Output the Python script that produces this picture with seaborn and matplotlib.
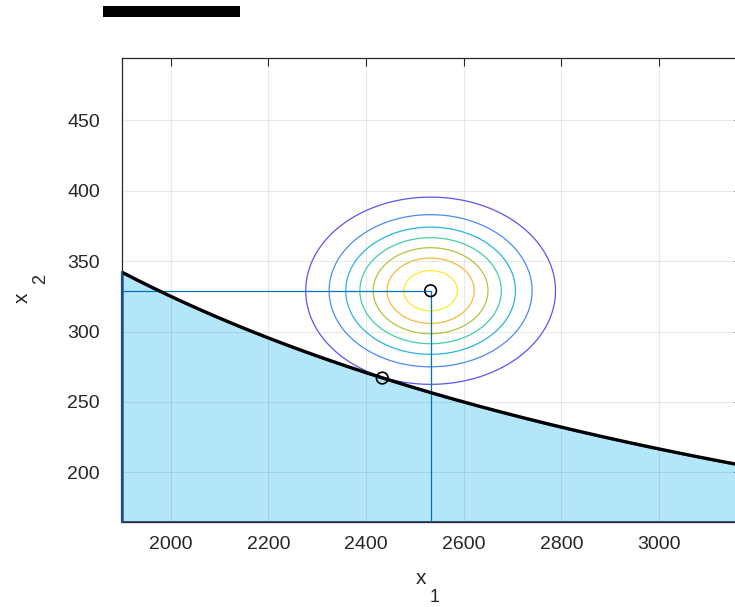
import numpy as np
import pandas as pd
import matplotlib
matplotlib.use('Agg')
import matplotlib.pyplot as plt
import seaborn as sns
from matplotlib.patches import Rectangle

# ── Data ──────────────────────────────────────────────────────
x1_limits = [1900, 3170]
x2_limits = [165, 494]
x_ticks = [2000, 2200, 2400, 2600, 2800, 3000]
y_ticks = [200, 250, 300, 350, 400, 450]

limit_const = 650000.0            # limit state: x1 * x2 = const
mean_x1, mean_x2 = 2532, 329      # mean point
std_x1, std_x2 = 126.6, 32.9      # standard deviations
design_x1, design_x2 = 2433, 267  # design point on the limit state
level_fracs = [0.13, 0.26, 0.39, 0.52, 0.65, 0.78, 0.91]
level_colors = ['#5a55f0', '#4a8df2', '#2ab4e0', '#45cf9c',
                '#b0c63c', '#f8b93c', '#f4ec2c']

# ── Style ─────────────────────────────────────────────────────
sns.set_theme(style='white')
plt.rcParams['font.family'] = ['Liberation Sans', 'DejaVu Sans']
dark = '#262626'

fig = plt.figure(figsize=(7.35, 6.07), dpi=100)
ax = fig.add_axes([0.166, 0.1405, 0.8437, 0.7634])

# failure domain (below the limit-state curve)
curve = pd.DataFrame({'x1': np.linspace(x1_limits[0], x1_limits[1], 300)})
curve['x2'] = limit_const / curve['x1']
ax.fill_between(curve['x1'], x2_limits[0], curve['x2'],
                facecolor='#b3e6f8', edgecolor='#1d4e8f', linewidth=1.6,
                zorder=1)
ax.plot([x1_limits[0], x1_limits[0]], [x2_limits[0], curve['x2'].iloc[0]],
        color='#1d4e8f', linewidth=1.6, zorder=6, clip_on=False)
sns.lineplot(data=curve, x='x1', y='x2', color='black', linewidth=2.4,
             ax=ax, zorder=4)

# joint density contours
gx, gy = np.meshgrid(np.linspace(2150, 2950, 400), np.linspace(200, 460, 400))
dens = np.exp(-0.5 * (((gx - mean_x1) / std_x1) ** 2 + ((gy - mean_x2) / std_x2) ** 2))
ax.contour(gx, gy, dens, levels=level_fracs, colors=level_colors,
           linewidths=0.9, zorder=3)

# mean point projections
ax.plot([x1_limits[0], mean_x1], [mean_x2, mean_x2], color='#0072BD',
        linewidth=0.9, zorder=3)
ax.plot([mean_x1, mean_x1], [x2_limits[0], mean_x2], color='#0072BD',
        linewidth=0.9, zorder=3)

pts = pd.DataFrame({'x1': [mean_x1, design_x1], 'x2': [mean_x2, design_x2]})
sns.scatterplot(data=pts, x='x1', y='x2', marker='o', s=70,
                facecolor='none', edgecolor='black', linewidth=1.2,
                ax=ax, zorder=5)

# ── Axes ──────────────────────────────────────────────────────
ax.set_xlim(x1_limits)
ax.set_ylim(x2_limits)
ax.set_xticks(x_ticks)
ax.set_yticks(y_ticks)
ax.set_xlabel('')
ax.set_ylabel('')
ax.grid(True, color=dark, alpha=0.1, linewidth=0.8)
ax.set_axisbelow(False)
ax.tick_params(direction='in', length=6, width=0.8, colors=dark,
               labelsize=14, top=True, right=True)
ax.tick_params(axis='x', pad=10)
ax.tick_params(axis='y', pad=16)
for s in ax.spines.values():
    s.set_color(dark)
    s.set_linewidth(0.9)

# axis labels written as MATLAB draws x_1 / x_2
fig.text(421 / 735, 1 - 578 / 607, 'x', fontsize=15, color=dark,
         ha='center', va='center')
fig.text(435 / 735, 1 - 598 / 607, '1', fontsize=13, color=dark,
         ha='center', va='center')
fig.text(22 / 735, 1 - 298 / 607, 'x', fontsize=15, color=dark,
         ha='center', va='center', rotation=90)
fig.text(41 / 735, 1 - 279 / 607, '2', fontsize=13, color=dark,
         ha='center', va='center', rotation=90)

# redacted title bar
fig.patches.append(Rectangle((103 / 735, 1 - 17 / 607), 137 / 735, 11 / 607,
                             transform=fig.transFigure, facecolor='black',
                             edgecolor='none'))

fig.savefig('out.png', dpi=100)
plt.close(fig)
